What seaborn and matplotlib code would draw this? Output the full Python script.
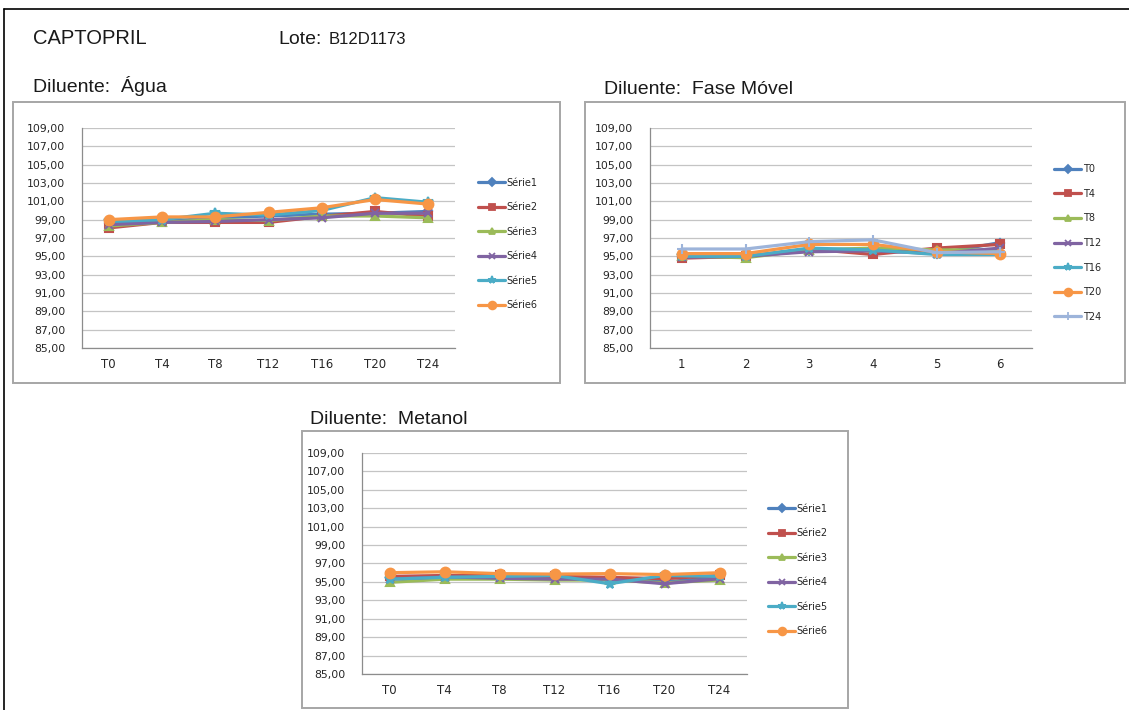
import numpy as np
import pandas as pd
import matplotlib.pyplot as plt
import seaborn as sns
from matplotlib.patches import Rectangle
from matplotlib.lines import Line2D

# ------------------------------------------------------------
# Dados
# ------------------------------------------------------------

tempos = ["T0", "T4", "T8", "T12", "T16", "T20", "T24"]
replicatas = ["1", "2", "3", "4", "5", "6"]
nomes_serie = ["Série1", "Série2", "Série3", "Série4", "Série5", "Série6"]

# Diluente: Água (x = tempos)
agua_serie1 = [98.6, 98.8, 99.2, 99.4, 99.6, 99.7, 99.9]
agua_serie2 = [98.1, 98.7, 98.7, 98.7, 99.35, 99.9, 99.35]
agua_serie3 = [98.3, 98.7, 99.0, 98.9, 99.4, 99.4, 99.2]
agua_serie4 = [98.45, 98.7, 98.8, 99.0, 99.2, 99.7, 99.7]
agua_serie5 = [98.8, 99.0, 99.7, 99.5, 100.0, 101.4, 100.9]
agua_serie6 = [99.0, 99.3, 99.3, 99.8, 100.3, 101.2, 100.7]

# Diluente: Fase Móvel (x = replicatas, uma linha por tempo)
fm_t0 = [94.9, 95.0, 95.6, 95.7, 95.3, 96.5]
fm_t4 = [94.8, 95.0, 95.8, 95.2, 95.9, 96.3]
fm_t8 = [95.0, 94.85, 95.7, 95.9, 95.7, 95.7]
fm_t12 = [94.9, 95.0, 95.5, 95.6, 95.3, 95.9]
fm_t16 = [95.0, 95.0, 95.9, 95.7, 95.2, 95.2]
fm_t20 = [95.3, 95.3, 96.3, 96.3, 95.5, 95.3]
fm_t24 = [95.8, 95.8, 96.6, 96.8, 95.4, 95.5]

# Diluente: Metanol (x = tempos)
met_serie1 = [95.45, 95.5, 95.5, 95.5, 95.4, 95.0, 95.5]
met_serie2 = [95.6, 95.7, 95.7, 95.6, 95.5, 95.35, 95.7]
met_serie3 = [94.95, 95.3, 95.3, 95.2, 95.2, 94.9, 95.2]
met_serie4 = [95.3, 95.55, 95.4, 95.3, 95.3, 94.8, 95.35]
met_serie5 = [95.3, 95.5, 95.6, 95.7, 94.8, 95.7, 95.6]
met_serie6 = [96.0, 96.1, 95.9, 95.85, 95.9, 95.8, 96.0]

# ------------------------------------------------------------
# Estilo (cores e marcadores padrão do Excel)
# ------------------------------------------------------------

CORES = ["#4F81BD", "#C0504D", "#9BBB59", "#8064A2", "#4BACC6", "#F79646", "#9DB4DA"]
MARCADORES = ["D", "s", "^", "x", "*", "o", "+"]
TAM_MARCADOR = [4.5, 6, 5.5, 5.5, 7, 7, 6.5]

W, H = 1129, 710

sns.set_style("white")
plt.rcParams["font.family"] = ["Liberation Sans", "DejaVu Sans"]

fig = plt.figure(figsize=(W / 100, H / 100), dpi=100)


def px_rect(x0, y0, x1, y1):
    return [x0 / W, 1 - y1 / H, (x1 - x0) / W, (y1 - y0) / H]


def caixa(x0, y0, x1, y1):
    fig.patches.append(Rectangle((x0 / W, 1 - y1 / H), (x1 - x0) / W, (y1 - y0) / H,
                                 transform=fig.transFigure, fill=False,
                                 edgecolor="#A6A6A6", linewidth=1.4))


def desenhar(rect, categorias, series, nomes, leg_x, leg_y):
    ax = fig.add_axes(px_rect(*rect))
    for i, (valores, nome) in enumerate(zip(series, nomes)):
        df = pd.DataFrame({"x": categorias, "y": valores})
        sns.lineplot(data=df, x="x", y="y", ax=ax, sort=False, errorbar=None,
                     color=CORES[i], marker=MARCADORES[i], markersize=TAM_MARCADOR[i],
                     markeredgecolor=CORES[i], markeredgewidth=1.5,
                     linewidth=2.3, label=nome, legend=False)

    ax.set_xlim(-0.5, len(categorias) - 0.5)
    ax.set_ylim(85, 109)
    yt = np.arange(85, 110, 2)
    ax.set_yticks(yt)
    ax.set_yticklabels([f"{v:.2f}".replace(".", ",") for v in yt])
    ax.set_xticks(range(len(categorias)))
    ax.set_xticklabels(categorias)
    ax.set_xticks(np.arange(-0.5, len(categorias), 1.0), minor=True)
    ax.tick_params(axis="x", which="major", length=0, pad=7, labelsize=8.5,
                   labelfontfamily="DejaVu Sans", labelcolor="#262626")
    ax.tick_params(axis="x", which="minor", length=4, width=0.8, color="#8C8C8C",
                   direction="out")
    ax.tick_params(axis="y", length=5, width=0.8, color="#8C8C8C", direction="out",
                   pad=7, labelsize=7.8, labelfontfamily="DejaVu Sans",
                   labelcolor="#262626")
    ax.set_xlabel("")
    ax.set_ylabel("")
    ax.grid(axis="y", color="#C4C4C4", linewidth=0.9)
    ax.grid(axis="x", visible=False)
    for lado in ["top", "right"]:
        ax.spines[lado].set_visible(False)
    for lado in ["left", "bottom"]:
        ax.spines[lado].set_color("#8C8C8C")
        ax.spines[lado].set_linewidth(0.9)

    handles = [Line2D([], [], color=CORES[i], marker=MARCADORES[i],
                      markersize=TAM_MARCADOR[i] * 0.8, markeredgecolor=CORES[i],
                      markeredgewidth=1.3, linewidth=2.3) for i in range(len(nomes))]
    fig.legend(handles, nomes, loc="center left",
               bbox_to_anchor=(leg_x / W, 1 - leg_y / H), bbox_transform=fig.transFigure,
               frameon=False, borderpad=0, borderaxespad=0, handlelength=2.8,
               handletextpad=0.15, labelspacing=1.5,
               prop={"family": "DejaVu Sans", "size": 7})
    return ax


# ------------------------------------------------------------
# Cabeçalho e caixas
# ------------------------------------------------------------

fig.add_artist(Line2D([4 / W, 1], [1 - 9 / H, 1 - 9 / H], transform=fig.transFigure,
                      color="black", linewidth=1.2))
fig.add_artist(Line2D([4 / W, 4 / W], [0, 1 - 9 / H], transform=fig.transFigure,
                      color="black", linewidth=1.2))

fig.text(33 / W, 1 - 39 / H, "CAPTOPRIL", fontsize=14.5, va="center", color="#1a1a1a")
fig.text(278 / W, 1 - 39 / H, "Lote:", fontsize=14, va="center", color="#1a1a1a")
fig.text(329 / W, 1 - 39 / H, "B12D1173", fontsize=12, va="center", color="#1a1a1a")

fig.text(33 / W, 1 - 86 / H, "Diluente:  Água", fontsize=14, va="center", color="#1a1a1a")
fig.text(604 / W, 1 - 89 / H, "Diluente:  Fase Móvel", fontsize=14, va="center",
         color="#1a1a1a")
fig.text(310 / W, 1 - 420 / H, "Diluente:  Metanol", fontsize=14, va="center",
         color="#1a1a1a")

caixa(13, 102, 560, 383)
caixa(585, 102, 1125, 383)
caixa(302, 431, 848, 708)

# ------------------------------------------------------------
# Gráficos
# ------------------------------------------------------------

desenhar((82, 128, 455, 348), tempos,
         [agua_serie1, agua_serie2, agua_serie3, agua_serie4, agua_serie5, agua_serie6],
         nomes_serie, 478, 244)

desenhar((650, 128, 1032, 348), replicatas,
         [fm_t0, fm_t4, fm_t8, fm_t12, fm_t16, fm_t20, fm_t24],
         tempos, 1054, 243)

desenhar((362, 453, 747, 674), tempos,
         [met_serie1, met_serie2, met_serie3, met_serie4, met_serie5, met_serie6],
         nomes_serie, 768, 570)

fig.savefig("out.png", dpi=100)
